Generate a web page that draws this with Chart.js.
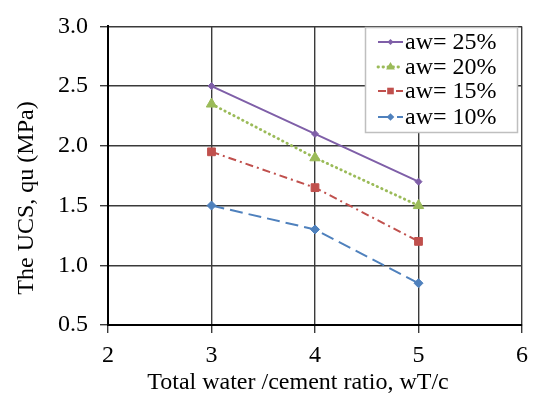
<!DOCTYPE html>
<html>
<head>
<meta charset="utf-8">
<script src="https://cdn.jsdelivr.net/npm/chart.js@4"></script>
<style>
  html, body { margin: 0; padding: 0; background: #fff; }
  #wrap { width: 536px; height: 398px; }
</style>
</head>
<body>
<div id="wrap"><canvas id="chart"></canvas></div>
<script>
// data
const ratios = [3, 4, 5];
const aw25 = [2.5, 2.1, 1.7];
const aw20 = [2.35, 1.9, 1.5];
const aw15 = [1.95, 1.65, 1.2];
const aw10 = [1.5, 1.3, 0.85];
const seriesNames = ['aw= 25%', 'aw= 20%', 'aw= 15%', 'aw= 10%'];
const xTitle = 'Total water /cement ratio, wT/c';
const yTitle = 'The UCS, qu (MPa)';

const serif = "'Liberation Serif', 'Times New Roman', serif";

function pts(vals) {
    return vals.map((v, i) => ({ x: ratios[i], y: v }));
}

const styles = [
    { color: '#7f5fa8', dash: [], point: 'rectRot', r: 3.5, cap: 'butt', w: 2 },
    { color: '#9bbb59', dash: [0.5, 4.5], point: 'triangle', r: 6, cap: 'round', w: 2.8 },
    { color: '#c0504d', dash: [8, 4, 2, 4], point: 'rect', r: 5.5, cap: 'butt', w: 2 },
    { color: '#4f81bd', dash: [13, 6], point: 'rectRot', r: 4.5, cap: 'butt', w: 2 }
];
const allValues = [aw25, aw20, aw15, aw10];

// legend box inside the plot + axis titles
const extras = {
    id: 'extras',
    afterDraw(chart) {
        const ctx = chart.ctx;
        ctx.save();
        // legend
        ctx.fillStyle = '#fff';
        ctx.fillRect(365, 27, 152, 105);
        ctx.strokeStyle = '#bfbfbf';
        ctx.lineWidth = 1.5;
        ctx.strokeRect(365.5, 27.5, 152, 105);
        ctx.font = '24px ' + serif;
        ctx.textBaseline = 'middle';
        const rows = [42, 67, 91, 117];
        styles.forEach((s, i) => {
            const y = rows[i];
            ctx.strokeStyle = s.color;
            ctx.lineWidth = s.w;
            ctx.lineCap = s.cap;
            ctx.setLineDash(s.dash);
            ctx.beginPath();
            ctx.moveTo(378, y);
            ctx.lineTo(403, y);
            ctx.stroke();
            ctx.setLineDash([]);
            ctx.lineCap = 'butt';
            ctx.fillStyle = s.color;
            Chart.helpers.drawPoint(ctx, { pointStyle: s.point, radius: s.r * 0.85, rotation: 0 }, 390.5, y);
            ctx.fillStyle = '#000';
            ctx.fillText(seriesNames[i], 405, y + 1);
        });
        // axis titles
        ctx.fillStyle = '#000';
        ctx.font = '24px ' + serif;
        ctx.textAlign = 'center';
        ctx.textBaseline = 'middle';
        ctx.fillText(xTitle, 298, 383);
        ctx.translate(27, 198);
        ctx.rotate(-Math.PI / 2);
        ctx.fillText(yTitle, 0, 0);
        ctx.restore();
    }
};

new Chart(document.getElementById('chart'), {
    type: 'line',
    data: {
        datasets: allValues.map((vals, i) => ({
            label: seriesNames[i],
            data: pts(vals),
            borderColor: styles[i].color,
            backgroundColor: styles[i].color,
            borderWidth: styles[i].w,
            borderDash: styles[i].dash,
            borderCapStyle: styles[i].cap,
            pointStyle: styles[i].point,
            pointRadius: styles[i].r,
            pointHoverRadius: styles[i].r,
            pointBorderWidth: 1,
            tension: 0
        }))
    },
    options: {
        responsive: true,
        maintainAspectRatio: false,
        animation: false,
        events: [],
        layout: { padding: { top: 20, right: 13, left: 0, bottom: 0 } },
        plugins: {
            legend: { display: false },
            tooltip: { enabled: false }
        },
        scales: {
            x: {
                type: 'linear',
                min: 2,
                max: 6,
                afterFit: s => { s.height = 73; },
                ticks: {
                    stepSize: 1,
                    color: '#000',
                    padding: 8,
                    maxRotation: 0,
                    font: { family: serif, size: 24 }
                },
                grid: { color: '#3a3a3a', lineWidth: 1.4, tickLength: 8 },
                border: { color: '#000', width: 2 }
            },
            y: {
                min: 0.5,
                max: 3,
                afterFit: s => { s.width = 108; },
                ticks: {
                    stepSize: 0.5,
                    color: '#000',
                    padding: 12,
                    font: { family: serif, size: 24 },
                    callback: v => v.toFixed(1)
                },
                grid: { color: '#3a3a3a', lineWidth: 1.4, tickLength: 8 },
                border: { color: '#000', width: 2 }
            }
        }
    },
    plugins: [extras]
});
</script>
</body>
</html>
